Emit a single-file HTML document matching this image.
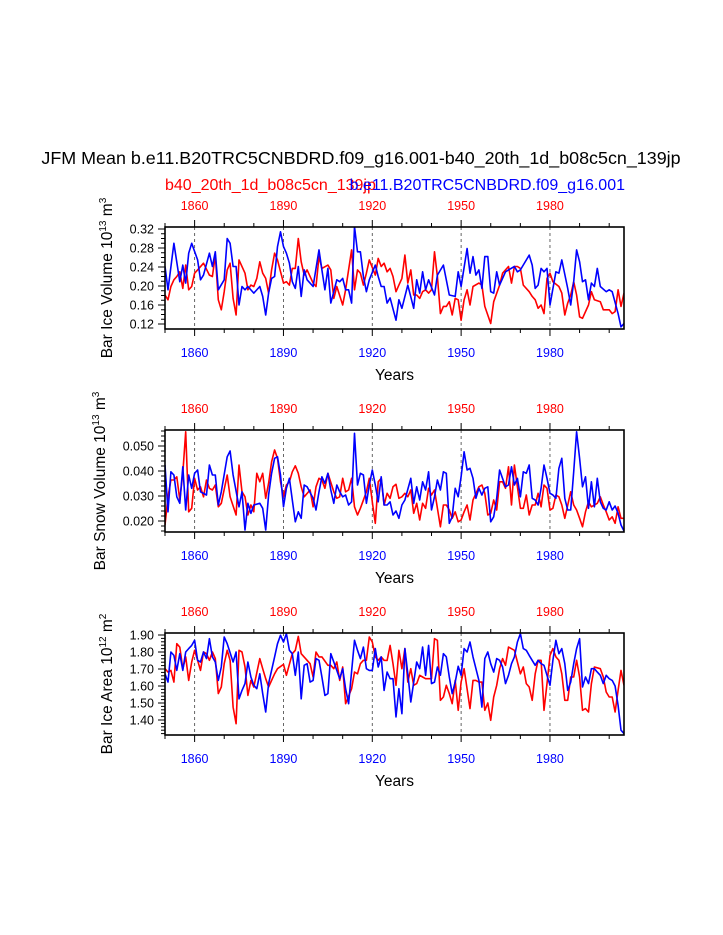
<!DOCTYPE html>
<html><head><meta charset="utf-8"><style>
body{margin:0;background:#fff;}
svg{display:block;font-family:"Liberation Sans",sans-serif;}
</style></head><body>
<svg id="chart" width="723" height="935" viewBox="0 0 723 935" xmlns="http://www.w3.org/2000/svg">
<rect width="723" height="935" fill="#fff"/>
<text x="361" y="164" font-size="17.9" text-anchor="middle" fill="#000">JFM Mean b.e11.B20TRC5CNBDRD.f09_g16.001-b40_20th_1d_b08c5cn_139jp</text>
<text x="165" y="190" font-size="16" fill="#f00">b40_20th_1d_b08c5cn_139jp</text>
<text x="625" y="190" font-size="16" text-anchor="end" fill="#00f">b.e11.B20TRC5CNBDRD.f09_g16.001</text>
<g id="plots"></g>
</svg>
<script>
const NS="http://www.w3.org/2000/svg";
const xTickYears=[1860,1890,1920,1950,1980];
const p1Ticks=[0.12,0.16,0.20,0.24,0.28,0.32];
const p1TickLabels=["0.12","0.16","0.20","0.24","0.28","0.32"];
const p2Ticks=[0.020,0.030,0.040,0.050];
const p2TickLabels=["0.020","0.030","0.040","0.050"];
const p3Ticks=[1.40,1.50,1.60,1.70,1.80,1.90];
const p3TickLabels=["1.40","1.50","1.60","1.70","1.80","1.90"];

const p1BlueYears=[1850,1851,1853,1855,1856,1857,1858,1859,1861,1862,1863,1865,1866,1867,1868,1870,1871,1872,1873,1874,1875,1876,1877,1878,1880,1882,1883,1884,1885,1886,1887,1888,1889,1890,1891,1892,1893,1894,1895,1896,1897,1898,1900,1902,1903,1904,1905,1906,1907,1908,1909,1910,1911,1912,1913,1914,1915,1916,1917,1918,1919,1921,1922,1923,1924,1925,1926,1928,1929,1930,1931,1932,1934,1935,1936,1937,1938,1939,1941,1942,1944,1946,1948,1949,1950,1952,1953,1954,1955,1956,1957,1958,1959,1960,1961,1962,1963,1965,1966,1968,1969,1970,1973,1974,1975,1976,1977,1978,1979,1980,1982,1983,1984,1986,1987,1988,1989,1990,1991,1992,1993,1994,1995,1996,1997,1999,2000,2001,2003,2004,2005];
const p1BlueVals=[.241,.192,.290,.209,.244,.206,.269,.290,.255,.213,.223,.269,.241,.272,.192,.213,.300,.290,.241,.241,.160,.199,.192,.199,.185,.199,.178,.139,.185,.216,.220,.283,.314,.283,.269,.248,.209,.195,.241,.178,.234,.213,.199,.276,.234,.192,.237,.164,.188,.213,.209,.216,.192,.192,.164,.325,.272,.272,.220,.188,.213,.244,.220,.199,.199,.164,.175,.128,.171,.153,.178,.202,.153,.213,.185,.230,.192,.213,.181,.223,.244,.181,.178,.230,.199,.279,.227,.262,.223,.234,.195,.262,.262,.188,.185,.230,.202,.230,.234,.241,.230,.234,.265,.244,.195,.202,.237,.230,.237,.160,.230,.227,.255,.195,.160,.209,.276,.251,.209,.213,.171,.206,.199,.237,.199,.188,.192,.188,.142,.114,.121];
const p1RedYears=[1850,1851,1852,1853,1854,1855,1856,1857,1858,1859,1860,1861,1863,1865,1866,1867,1868,1869,1870,1871,1872,1873,1874,1875,1877,1878,1879,1880,1881,1882,1883,1884,1885,1886,1887,1888,1890,1891,1892,1893,1894,1895,1896,1897,1898,1900,1901,1902,1903,1905,1906,1907,1908,1910,1911,1913,1914,1915,1916,1917,1918,1919,1921,1922,1923,1924,1925,1926,1927,1928,1929,1930,1931,1932,1933,1934,1935,1936,1937,1938,1939,1940,1941,1942,1943,1944,1945,1946,1947,1948,1949,1950,1951,1952,1953,1954,1956,1957,1958,1960,1961,1963,1964,1966,1967,1968,1969,1970,1971,1973,1974,1975,1976,1977,1978,1979,1980,1981,1983,1984,1985,1986,1987,1988,1989,1990,1991,1993,1994,1995,1997,1998,2000,2001,2002,2003,2004,2005];
const p1RedVals=[.181,.171,.199,.213,.220,.230,.195,.244,.192,.199,.227,.234,.248,.223,.220,.265,.171,.150,.188,.234,.248,.174,.139,.255,.227,.192,.202,.199,.216,.251,.227,.216,.185,.234,.269,.255,.206,.209,.202,.237,.237,.300,.251,.223,.234,.206,.199,.262,.237,.244,.234,.174,.199,.160,.192,.276,.192,.234,.227,.202,.227,.255,.223,.258,.241,.248,.230,.237,.220,.188,.202,.216,.265,.206,.234,.181,.181,.174,.188,.192,.185,.192,.272,.220,.142,.157,.157,.167,.139,.174,.171,.128,.171,.192,.160,.199,.206,.202,.157,.121,.167,.202,.227,.241,.206,.241,.241,.237,.202,.188,.178,.171,.153,.160,.142,.216,.227,.209,.199,.185,.139,.164,.181,.209,.181,.135,.132,.160,.188,.171,.167,.150,.150,.142,.146,.192,.157,.185];

const p2BlueYears=[1850,1851,1852,1853,1854,1855,1856,1857,1858,1859,1860,1861,1862,1864,1865,1866,1867,1868,1869,1871,1872,1873,1875,1876,1877,1878,1879,1880,1882,1883,1884,1885,1886,1887,1888,1889,1890,1891,1892,1893,1894,1895,1896,1897,1898,1900,1901,1902,1903,1904,1905,1906,1907,1908,1909,1910,1911,1912,1913,1914,1915,1916,1917,1918,1919,1920,1921,1922,1923,1924,1925,1926,1927,1928,1929,1930,1931,1933,1934,1935,1936,1937,1938,1939,1940,1941,1942,1943,1944,1945,1946,1947,1948,1949,1950,1951,1952,1953,1954,1955,1956,1957,1958,1959,1960,1961,1962,1963,1965,1966,1967,1968,1969,1970,1971,1972,1973,1974,1975,1976,1977,1978,1979,1980,1981,1982,1983,1984,1985,1986,1987,1988,1989,1990,1991,1992,1993,1994,1995,1996,1997,1998,1999,2000,2001,2002,2003,2004,2005];
const p2BlueVals=[.0424,.0237,.0397,.0384,.0297,.0271,.0417,.0244,.0384,.0331,.0391,.0404,.0317,.0304,.0424,.0384,.0384,.0264,.0317,.0457,.0480,.0384,.0257,.0317,.0164,.0271,.0231,.0264,.0271,.0251,.0164,.0304,.0391,.0451,.0457,.0384,.0257,.0331,.0371,.0284,.0197,.0237,.0211,.0344,.0337,.0291,.0244,.0317,.0377,.0351,.0391,.0324,.0271,.0344,.0317,.0297,.0304,.0264,.0277,.0551,.0344,.0391,.0384,.0271,.0344,.0404,.0344,.0277,.0377,.0264,.0264,.0277,.0224,.0240,.0211,.0264,.0284,.0371,.0271,.0337,.0284,.0357,.0324,.0397,.0244,.0297,.0364,.0324,.0397,.0391,.0191,.0217,.0331,.0297,.0377,.0477,.0404,.0411,.0371,.0291,.0331,.0304,.0331,.0337,.0197,.0217,.0291,.0404,.0337,.0344,.0417,.0344,.0371,.0297,.0397,.0391,.0424,.0291,.0284,.0264,.0331,.0424,.0371,.0311,.0304,.0291,.0411,.0451,.0291,.0244,.0244,.0397,.0557,.0451,.0337,.0377,.0251,.0357,.0257,.0371,.0277,.0251,.0244,.0277,.0244,.0260,.0231,.0184,.0160];
const p2RedYears=[1850,1851,1852,1853,1854,1855,1856,1857,1858,1859,1860,1861,1862,1863,1864,1865,1866,1867,1868,1869,1871,1872,1874,1875,1876,1877,1878,1879,1880,1881,1882,1883,1884,1885,1886,1887,1888,1889,1890,1891,1892,1893,1894,1895,1896,1897,1899,1900,1901,1902,1903,1904,1905,1907,1908,1909,1910,1911,1912,1913,1914,1915,1916,1918,1919,1920,1921,1922,1923,1924,1925,1926,1927,1928,1929,1930,1931,1932,1933,1934,1935,1936,1937,1938,1939,1940,1941,1942,1943,1944,1945,1946,1947,1948,1949,1950,1951,1952,1953,1954,1956,1957,1958,1959,1960,1961,1962,1963,1964,1965,1966,1967,1968,1970,1971,1972,1973,1974,1975,1976,1977,1978,1979,1980,1981,1982,1983,1984,1985,1987,1988,1989,1990,1991,1992,1993,1994,1996,1997,1998,1999,2000,2001,2002,2003,2004,2005];
const p2RedVals=[.0184,.0297,.0364,.0364,.0377,.0284,.0391,.0557,.0237,.0251,.0371,.0324,.0337,.0297,.0364,.0331,.0324,.0344,.0257,.0271,.0384,.0297,.0224,.0424,.0317,.0297,.0224,.0264,.0237,.0391,.0357,.0391,.0291,.0351,.0437,.0484,.0451,.0357,.0297,.0344,.0357,.0397,.0421,.0391,.0337,.0297,.0324,.0257,.0337,.0371,.0364,.0331,.0391,.0317,.0291,.0297,.0371,.0317,.0324,.0371,.0257,.0224,.0251,.0317,.0371,.0277,.0191,.0357,.0371,.0264,.0311,.0291,.0337,.0347,.0291,.0297,.0311,.0297,.0324,.0231,.0271,.0204,.0271,.0251,.0331,.0304,.0324,.0251,.0177,.0264,.0264,.0244,.0211,.0237,.0197,.0204,.0237,.0264,.0204,.0284,.0337,.0344,.0311,.0224,.0231,.0284,.0244,.0357,.0357,.0331,.0417,.0264,.0424,.0251,.0251,.0304,.0224,.0264,.0264,.0311,.0257,.0344,.0331,.0244,.0251,.0304,.0297,.0264,.0211,.0317,.0264,.0244,.0211,.0177,.0237,.0277,.0257,.0271,.0297,.0264,.0237,.0204,.0217,.0191,.0257,.0211,.0211];

const p3BlueYears=[1850,1851,1852,1853,1854,1855,1856,1857,1858,1859,1860,1861,1862,1863,1864,1865,1866,1867,1868,1869,1870,1871,1873,1874,1875,1876,1877,1878,1879,1880,1881,1882,1883,1884,1885,1887,1888,1889,1890,1891,1892,1893,1894,1895,1896,1897,1898,1899,1900,1901,1902,1903,1904,1905,1906,1908,1909,1910,1911,1912,1914,1915,1916,1917,1918,1919,1920,1921,1922,1923,1924,1925,1926,1927,1928,1929,1930,1931,1932,1933,1935,1936,1937,1938,1939,1940,1941,1942,1943,1944,1945,1946,1947,1948,1949,1950,1951,1952,1953,1954,1956,1957,1958,1959,1960,1961,1962,1963,1964,1965,1966,1967,1968,1969,1970,1971,1972,1973,1975,1976,1977,1978,1980,1981,1982,1983,1984,1985,1986,1987,1988,1989,1990,1991,1992,1993,1994,1995,1996,1997,1998,1999,2000,2001,2002,2003,2004,2005];
const p3BlueVals=[1.672,1.623,1.800,1.780,1.692,1.790,1.692,1.800,1.820,1.839,1.869,1.751,1.741,1.800,1.761,1.878,1.771,1.741,1.633,1.712,1.888,1.849,1.741,1.800,1.525,1.574,1.614,1.741,1.653,1.604,1.584,1.672,1.555,1.447,1.614,1.771,1.849,1.898,1.859,1.908,1.810,1.790,1.663,1.800,1.525,1.722,1.731,1.623,1.633,1.761,1.751,1.653,1.545,1.555,1.790,1.692,1.643,1.702,1.584,1.496,1.869,1.810,1.761,1.829,1.702,1.692,1.692,1.820,1.712,1.771,1.574,1.682,1.643,1.643,1.418,1.584,1.437,1.820,1.672,1.506,1.741,1.702,1.829,1.663,1.839,1.614,1.623,1.712,1.663,1.790,1.771,1.653,1.555,1.623,1.716,1.663,1.820,1.800,1.859,1.771,1.633,1.476,1.761,1.800,1.731,1.682,1.761,1.751,1.712,1.614,1.663,1.731,1.771,1.859,1.908,1.820,1.810,1.780,1.722,1.751,1.731,1.722,1.604,1.751,1.869,1.790,1.820,1.731,1.574,1.623,1.731,1.820,1.878,1.594,1.653,1.614,1.702,1.702,1.682,1.663,1.614,1.663,1.643,1.633,1.600,1.486,1.340,1.320];
const p3RedYears=[1850,1851,1852,1853,1854,1855,1856,1857,1858,1859,1860,1861,1862,1863,1864,1865,1866,1867,1868,1869,1870,1871,1872,1873,1874,1875,1876,1877,1878,1879,1880,1882,1883,1884,1885,1887,1888,1890,1891,1893,1894,1895,1896,1898,1899,1900,1901,1902,1903,1905,1906,1907,1908,1909,1910,1911,1913,1914,1915,1916,1917,1918,1919,1920,1921,1922,1923,1924,1925,1926,1927,1928,1929,1930,1931,1932,1933,1934,1935,1936,1937,1938,1939,1940,1941,1942,1943,1944,1945,1946,1947,1948,1949,1950,1951,1953,1954,1955,1956,1957,1958,1959,1960,1961,1962,1963,1964,1965,1966,1968,1969,1970,1971,1972,1973,1974,1975,1976,1977,1978,1979,1980,1981,1982,1983,1984,1985,1986,1987,1988,1989,1990,1991,1992,1993,1994,1995,1997,1998,1999,2000,2001,2002,2003,2004,2005];
const p3RedVals=[1.702,1.682,1.692,1.623,1.849,1.829,1.702,1.771,1.633,1.741,1.810,1.751,1.692,1.800,1.790,1.751,1.800,1.761,1.555,1.594,1.731,1.810,1.751,1.476,1.378,1.810,1.800,1.712,1.545,1.633,1.594,1.761,1.702,1.643,1.594,1.672,1.702,1.727,1.663,1.790,1.810,1.892,1.790,1.751,1.731,1.653,1.800,1.771,1.771,1.722,1.722,1.702,1.741,1.633,1.712,1.496,1.584,1.682,1.672,1.731,1.751,1.751,1.888,1.859,1.771,1.751,1.771,1.751,1.750,1.839,1.731,1.604,1.810,1.702,1.820,1.623,1.702,1.604,1.614,1.663,1.653,1.643,1.643,1.643,1.878,1.869,1.516,1.535,1.604,1.555,1.496,1.633,1.457,1.623,1.702,1.467,1.633,1.633,1.623,1.623,1.457,1.500,1.398,1.535,1.604,1.702,1.761,1.722,1.829,1.810,1.741,1.672,1.712,1.614,1.594,1.516,1.672,1.751,1.751,1.457,1.614,1.780,1.820,1.771,1.751,1.672,1.516,1.516,1.653,1.653,1.751,1.653,1.457,1.467,1.447,1.614,1.712,1.702,1.653,1.565,1.535,1.535,1.447,1.574,1.692,1.604,1.633];

const X0=165,X1=624,Y_START=1850,Y_END=2005;
function xs(yr){return X0+(yr-Y_START)*(X1-X0)/(Y_END-Y_START);}
const g=document.getElementById('plots');
function el(tag,attrs,parent){const e=document.createElementNS(NS,tag);for(const k in attrs)e.setAttribute(k,attrs[k]);(parent||g).appendChild(e);return e;}

const panels=[
 {key:'ice-volume',top:227,bot:329,vTop:0.32,yTop:229,scale:475,vmin:0.1155,vmax:0.324,minor:0.01,ticks:p1Ticks,labels:p1TickLabels,
  title:['Bar Ice Volume 10','13',' m','3'],titleX:112,blueY:p1BlueYears,blueV:p1BlueVals,redY:p1RedYears,redV:p1RedVals},
 {key:'snow-volume',top:430,bot:532,vTop:0.05,yTop:446,scale:2500,vmin:0.0156,vmax:0.0564,minor:0.002,ticks:p2Ticks,labels:p2TickLabels,
  title:['Bar Snow Volume 10','13',' m','3'],titleX:105,blueY:p2BlueYears,blueV:p2BlueVals,redY:p2RedYears,redV:p2RedVals},
 {key:'ice-area',top:633,bot:735,vTop:1.9,yTop:635,scale:170,vmin:1.31,vmax:1.918,minor:0.02,ticks:p3Ticks,labels:p3TickLabels,
  title:['Bar Ice Area 10','12',' m','2'],titleX:112,blueY:p3BlueYears,blueV:p3BlueVals,redY:p3RedYears,redV:p3RedVals}
];

panels.forEach((p,i)=>{
  const ys=v=>p.yTop+(p.vTop-v)*p.scale;
  const pg=el('g',{});
  
  
  const clip=el('clipPath',{id:'clip'+i},pg);
  el('rect',{x:X0,y:p.top,width:X1-X0,height:p.bot-p.top},clip);
  xTickYears.forEach(yr=>{
    const l=el('line',{x1:xs(yr),x2:xs(yr),y1:p.top,y2:p.bot,stroke:'#555','stroke-width':0.9,'stroke-dasharray':'3,3'},pg);
    
    
  });
  [['red','#f00',p.redY,p.redV],['blue','#00f',p.blueY,p.blueV]].forEach(s=>{
    const pts=s[2].map((yr,k)=>xs(yr).toFixed(1)+','+ys(s[3][k]).toFixed(1)).join(' ');
    const pl=el('polyline',{points:pts,fill:'none',stroke:s[1],'stroke-width':1.6,'stroke-linejoin':'round','clip-path':'url(#clip'+i+')'},pg);
    
    
  });
  const fr=el('rect',{x:X0,y:p.top,width:X1-X0,height:p.bot-p.top,fill:'none',stroke:'#000','stroke-width':1.6},pg);
  
  
  for(let yr=1850;yr<=2005;yr+=10){
    const major=xTickYears.includes(yr);
    const len=major?7:4;
    el('line',{x1:xs(yr),x2:xs(yr),y1:p.top,y2:p.top-len,stroke:'#000','stroke-width':1},pg);
    el('line',{x1:xs(yr),x2:xs(yr),y1:p.bot,y2:p.bot+len,stroke:'#000','stroke-width':1},pg);
  }
  xTickYears.forEach(yr=>{
    const t=el('text',{x:xs(yr),y:p.top-17,'font-size':12.5,'text-anchor':'middle',fill:'#f00'},pg);
    t.textContent=yr;
    
    
    const b=el('text',{x:xs(yr),y:p.bot+28,'font-size':12.5,'text-anchor':'middle',fill:'#00f'},pg);
    b.textContent=yr;
    
    
  });
  const nMin=Math.ceil(p.vmin/p.minor-1e-6),nMax=Math.floor(p.vmax/p.minor+1e-6);
  for(let n=nMin;n<=nMax;n++){
    const v=n*p.minor;
    const y=ys(v);
    if(y<p.top-0.5||y>p.bot+0.5)continue;
    const major=p.ticks.some(t=>Math.abs(t-v)<p.minor/3);
    el('line',{x1:X0,x2:X0-(major?7:4),y1:y,y2:y,stroke:'#000','stroke-width':1},pg);
  }
  p.ticks.forEach((v,k)=>{
    const t=el('text',{x:X0-11,y:ys(v)+4.5,'font-size':12.5,'text-anchor':'end',fill:'#000'},pg);
    t.textContent=p.labels[k];
    
    
  });
  const xt=el('text',{x:(X0+X1)/2,y:p.bot+51,'font-size':15.5,'text-anchor':'middle',fill:'#000'},pg);
  xt.textContent='Years';
  
  
  const cy=(p.top+p.bot)/2;
  const yt=el('text',{x:0,y:0,'font-size':15.5,'text-anchor':'middle',fill:'#000',transform:'translate('+p.titleX+','+cy+') rotate(-90)'},pg);
  
  
  const parts=p.title;
  const s1=el('tspan',{},yt);s1.textContent=parts[0];
  const s2=el('tspan',{'font-size':10,dy:-6},yt);s2.textContent=parts[1];
  const s3=el('tspan',{dy:6},yt);s3.textContent=parts[2];
  const s4=el('tspan',{'font-size':10,dy:-6},yt);s4.textContent=parts[3];
});
</script>
</body></html>
